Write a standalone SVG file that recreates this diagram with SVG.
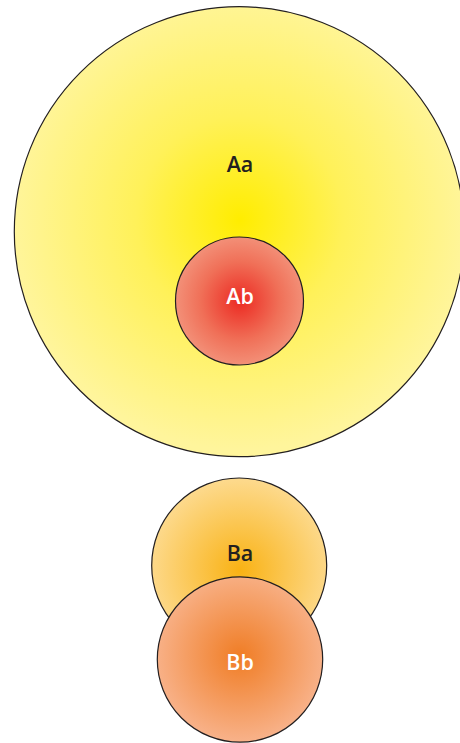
<svg xmlns="http://www.w3.org/2000/svg" width="460" height="743" viewBox="0 0 460 743">
<style>
.c{stroke:#231f20;stroke-width:1.2}
.t{font-family:"Open Sans","Liberation Sans",sans-serif;font-weight:600;font-size:21.5px;text-anchor:middle}
.d{fill:#231f20}
.w{fill:#ffffff}
</style>
<defs>
<radialGradient id="gAa" gradientUnits="userSpaceOnUse" cx="240" cy="220" r="230">
<stop offset="0" stop-color="#ffed00"/>
<stop offset="0.45" stop-color="#fff159"/>
<stop offset="1" stop-color="#fff59c"/>
</radialGradient>
<radialGradient id="gAb" gradientUnits="userSpaceOnUse" cx="240" cy="301" r="66">
<stop offset="0" stop-color="#ec2a22"/>
<stop offset="0.6" stop-color="#f07058"/>
<stop offset="1" stop-color="#f3927a"/>
</radialGradient>
<radialGradient id="gBa" gradientUnits="userSpaceOnUse" cx="240" cy="570" r="92">
<stop offset="0" stop-color="#f9b214"/>
<stop offset="1" stop-color="#fdda8e"/>
</radialGradient>
<radialGradient id="gBb" gradientUnits="userSpaceOnUse" cx="240" cy="656" r="86">
<stop offset="0" stop-color="#f07d25"/>
<stop offset="1" stop-color="#f8b28a"/>
</radialGradient>
</defs>
<g id="Aa">
<circle class="c" cx="239.3" cy="231.7" r="225" fill="url(#gAa)"/>
<text class="t d" x="240" y="171.7">Aa</text>
</g>
<g id="Ab">
<circle class="c" cx="239.5" cy="301" r="64" fill="url(#gAb)"/>
<text class="t w" x="240" y="304.3">Ab</text>
</g>
<g id="Ba">
<circle class="c" cx="239.2" cy="565.5" r="87.5" fill="url(#gBa)"/>
<text class="t d" x="240" y="561">Ba</text>
</g>
<g id="Bb">
<circle class="c" cx="240" cy="659.5" r="82.7" fill="url(#gBb)"/>
<text class="t w" x="240" y="669.5">Bb</text>
</g>
<g id="connectors"/>
</svg>
